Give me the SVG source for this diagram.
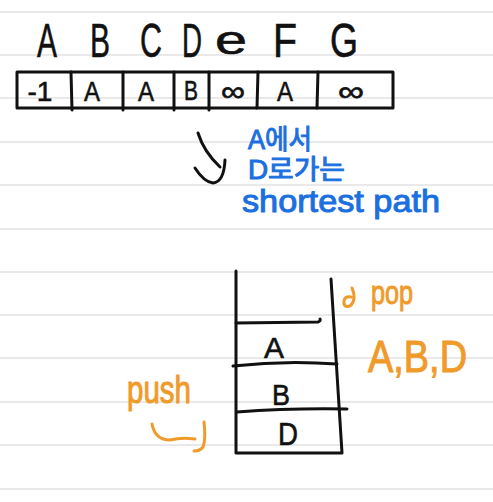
<svg xmlns="http://www.w3.org/2000/svg" width="493" height="502" viewBox="0 0 493 502">
<style>
.rule{stroke:#e2e2e2;stroke-width:1.5}
.ink{stroke:#111;stroke-width:3;fill:none;stroke-linecap:round;stroke-linejoin:round}
.or{stroke:#f09a2a;stroke-width:3;fill:none;stroke-linecap:round;stroke-linejoin:round}
.k{font-family:"Liberation Sans","DejaVu Sans",sans-serif;fill:#111;text-anchor:middle;stroke:#111;stroke-width:0.6}
.b{font-family:"Liberation Sans","Noto Sans CJK KR",sans-serif;fill:#1b6fe0;stroke:#1b6fe0;stroke-width:1}
.o{font-family:"Liberation Sans",sans-serif;fill:#f09a2a;stroke:#f09a2a;stroke-width:1}
</style>
<rect width="493" height="502" fill="#fff"/>
<g id="ruled-lines">
<line class="rule" x1="0" y1="12" x2="493" y2="12"/>
<line class="rule" x1="0" y1="55" x2="493" y2="55"/>
<line class="rule" x1="0" y1="98" x2="493" y2="98"/>
<line class="rule" x1="0" y1="142" x2="493" y2="142"/>
<line class="rule" x1="0" y1="185" x2="493" y2="185"/>
<line class="rule" x1="0" y1="229" x2="493" y2="229"/>
<line class="rule" x1="0" y1="272" x2="493" y2="272"/>
<line class="rule" x1="0" y1="315" x2="493" y2="315"/>
<line class="rule" x1="0" y1="358" x2="493" y2="358"/>
<line class="rule" x1="0" y1="402" x2="493" y2="402"/>
<line class="rule" x1="0" y1="445" x2="493" y2="445"/>
<line class="rule" x1="0" y1="489" x2="493" y2="489"/>
</g>
<g id="header-letters" font-size="48">
<text class="k" x="47" y="57" textLength="20" lengthAdjust="spacingAndGlyphs">A</text>
<text class="k" x="100" y="57" textLength="20" lengthAdjust="spacingAndGlyphs">B</text>
<text class="k" x="151" y="57" textLength="22" lengthAdjust="spacingAndGlyphs">C</text>
<text class="k" x="192" y="57" textLength="20" lengthAdjust="spacingAndGlyphs">D</text>
<text class="k" x="231" y="54" font-size="40" textLength="32" lengthAdjust="spacingAndGlyphs">e</text>
<text class="k" x="285" y="57" textLength="24" lengthAdjust="spacingAndGlyphs">F</text>
<text class="k" x="344" y="57" textLength="28" lengthAdjust="spacingAndGlyphs">G</text>
</g>
<g id="array">
<rect class="ink" x="17" y="72" width="376" height="36"/>
<line class="ink" x1="71" y1="72" x2="72" y2="110"/>
<line class="ink" x1="123" y1="72" x2="123" y2="110"/>
<line class="ink" x1="174" y1="72" x2="174" y2="110"/>
<line class="ink" x1="209" y1="72" x2="209" y2="110"/>
<line class="ink" x1="258" y1="72" x2="257" y2="108"/>
<line class="ink" x1="318" y1="72" x2="317" y2="108"/>
<g font-size="28">
<text class="k" x="40" y="101">-1</text>
<text class="k" x="92" y="101" textLength="16" lengthAdjust="spacingAndGlyphs">A</text>
<text class="k" x="146" y="101" textLength="16" lengthAdjust="spacingAndGlyphs">A</text>
<text class="k" x="191" y="100" textLength="14" lengthAdjust="spacingAndGlyphs">B</text>
<text class="k" x="233" y="101" textLength="24" lengthAdjust="spacingAndGlyphs">∞</text>
<text class="k" x="285" y="101" textLength="16" lengthAdjust="spacingAndGlyphs">A</text>
<text class="k" x="351" y="101" textLength="26" lengthAdjust="spacingAndGlyphs">∞</text>
</g>
</g>
<g id="note">
<text class="b" x="248" y="149" font-size="27" textLength="64" lengthAdjust="spacingAndGlyphs">A에서</text>
<text class="b" x="248" y="179" font-size="27" textLength="97" lengthAdjust="spacingAndGlyphs">D로가는</text>
<text class="b" x="242" y="212" font-size="32" textLength="198" lengthAdjust="spacingAndGlyphs">shortest path</text>
</g>
<g id="stack">
<path class="ink" d="M236 271 L236 453 L342 453 L331 279"/>
<path class="ink" d="M236 323 L318 322 Q321 321 320 319"/>
<path class="ink" d="M233 366 Q285 360 337 364"/>
<path class="ink" d="M237 412 Q290 408 347 409"/>
<text class="k" x="274" y="358" font-size="30" textLength="20" lengthAdjust="spacingAndGlyphs">A</text>
<text class="k" x="281" y="405" font-size="30" textLength="18" lengthAdjust="spacingAndGlyphs">B</text>
<text class="k" x="288" y="445" font-size="32" textLength="20" lengthAdjust="spacingAndGlyphs">D</text>
</g>
<g id="pop-label">
<text class="o" x="371" y="304" font-size="34" textLength="42" lengthAdjust="spacingAndGlyphs">pop</text>
<text class="o" x="368" y="372" font-size="44" textLength="99" lengthAdjust="spacingAndGlyphs">A,B,D</text>
</g>
<g id="push-label">
<text class="o" x="127" y="403" font-size="38" textLength="64" lengthAdjust="spacingAndGlyphs">push</text>
</g>
<g id="connectors">
<path class="ink" d="M198 133 Q204 152 220 167"/>
<path class="ink" d="M195 168 Q204 182 213 183 Q224 182 225 160"/>
<path class="or" d="M152 424 Q155 440 170 440 Q182 437 195 439"/>
<path class="or" d="M204 422 Q206 440 203 447 Q200 451 194 451"/>
<path class="or" d="M352 288 Q357 300 350 306 Q343 308 344 301 Q345 296 351 297"/>
</g>
</svg>
